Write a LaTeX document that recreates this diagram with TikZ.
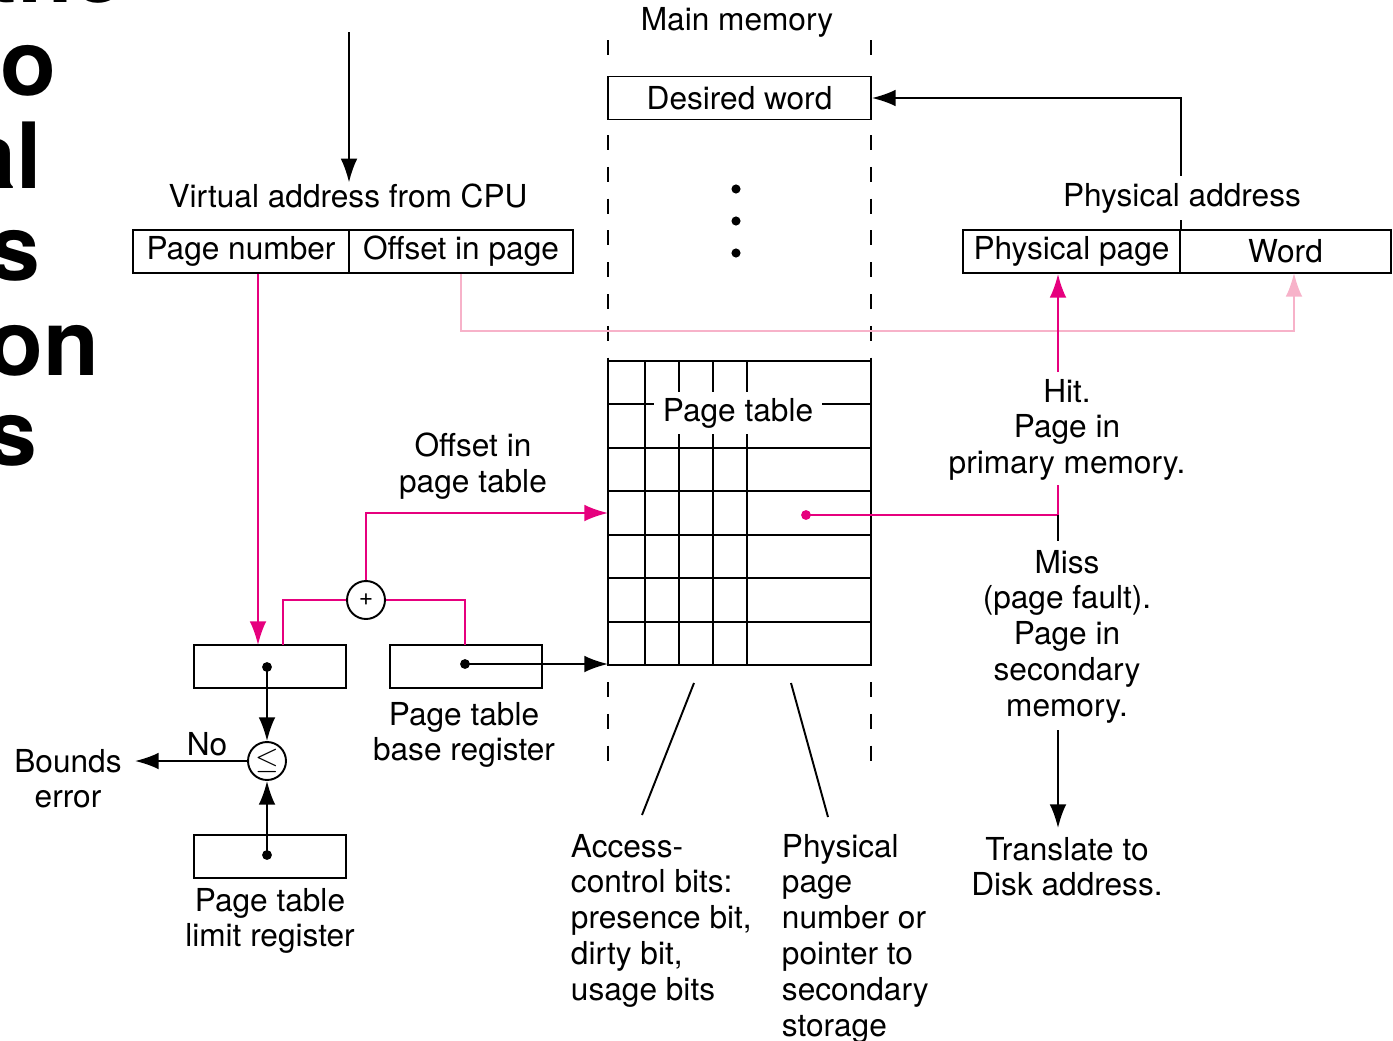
\documentclass[tikz,border=0pt]{standalone}
\usepackage{fontspec}
\setmainfont{TeX Gyre Heros}
\usetikzlibrary{arrows.meta}
\definecolor{hitpink}{RGB}{230,0,126}
\definecolor{offpink}{RGB}{247,178,201}
\tikzset{
  lbl/.style={font=\fontsize{18}{20.4}\selectfont, inner sep=0pt},
  field/.style={lbl, draw, minimum height=0.86cm},
  regbox/.style={draw, minimum width=3.04cm, minimum height=0.86cm, inner sep=0pt},
  op/.style={draw, circle, minimum size=0.76cm, inner sep=0pt, fill=white},
  hit/.style={hitpink},
  off/.style={offpink},
  memdash/.style={dash pattern=on 8.5pt off 9.6pt},
}
\begin{document}
\begin{tikzpicture}[x=0.02cm, y=-0.02cm, line width=1.1pt,
    >={Latex[length=13.5pt,width=9.5pt]}]
  \path[use as bounding box] (0,0) rectangle (1393,1041);
  \clip (0,0) rectangle (1393,1041);

  % title of the slide, cut off at the left
  \begin{scope}[font=\fontsize{52}{60}\selectfont\bfseries]
    \node[anchor=base east, inner sep=0pt] (t1) at (125,3) {the};
    \node[anchor=base east, inner sep=0pt] (t2) at (57,95) {to};
    \node[anchor=base east, inner sep=0pt] (t3) at (43,188) {al};
    \node[anchor=base east, inner sep=0pt] (t4) at (41,280) {s};
    \node[anchor=base east, inner sep=0pt] (t5) at (100,375) {on};
    \node[anchor=base east, inner sep=0pt] (t6) at (38,465) {s};
  \end{scope}

  % Main memory
  \node[lbl, anchor=base] (mm) at (737,31) {Main memory};
  \node[field, minimum width=5.26cm] (dword) at (739.5,98) {Desired word};
  \foreach \x in {608,871} {
    \draw[memdash] (\x,40) -- (\x,56);
    \draw[memdash] (\x,135) -- (\x,361);
    \draw[memdash] (\x,682) -- (\x,762);
  }
  \foreach \y in {189,221,253} \fill (736,\y) circle (2.6pt);

  % Virtual address
  \node[lbl, anchor=base] (vlabel) at (348,207) {Virtual address from CPU};
  \node[field, minimum width=4.32cm] (pnum) at (241,251.5) {Page number};
  \node[field, minimum width=4.48cm] (offs) at (461,251.5) {Offset in page};
  \coordinate (cpu) at (349,32);
  \draw[->] (cpu) -- (cpu |- vlabel.north);

  % Physical address
  \node[field, minimum width=4.34cm] (ppage) at (1071.5,251.5) {Physical page};
  \node[field, minimum width=4.22cm] (word) at (1285.5,251.5) {Word};
  \draw[->] (ppage.north east) -- (ppage.north east |- dword.east) -- (dword.east);
  \node[lbl, anchor=base, fill=white, inner ysep=4pt] (palabel) at (1182,206) {Physical address};

  % Page table
  \coordinate (ptnw) at (608,361);
  \draw (608,361) rectangle (871,665);
  \foreach \y in {404.4,447.9,491.3,534.7,578.1,621.6} \draw (608,\y) -- (871,\y);
  \foreach \x in {645,679,713,747} \draw (\x,361) -- (\x,665);
  \node[lbl, anchor=base, fill=white, inner xsep=5pt, inner ysep=3.4pt] (ptlabel) at (738,421) {Page table};
  \coordinate (acc top) at (694,683);
  \coordinate (ppn top) at (791,683);
  \draw (acc top) -- (642,815);
  \draw (ppn top) -- (828,817);

  % registers and adders
  \node[regbox] (preg) at (270,666.5) {};
  \node[regbox] (breg) at (466,666.5) {};
  \node[regbox] (lreg) at (270,856.5) {};
  \node[op, font=\fontsize{14}{14}\selectfont] (sum) at (366,600) {+};
  \node[op, font=\fontsize{16}{16}\selectfont] (cmp) at (267,761) {$\leq$};

  % page number into the register
  \coordinate (pin) at (258,645);
  \draw[hit,->] (pnum.south -| pin) -- (pin);
  % offset into the word field
  \coordinate (offdrop) at (461,331);
  \coordinate (wordin) at (1294,273);
  \draw[off,->] (offs.south) -- (offdrop) -| (wordin);

  % adder to page table
  \coordinate (pregin) at (283,645);
  \coordinate (bregin) at (465,645);
  \coordinate (ptin) at (608,513);
  \draw[hit] (sum.west) -| (pregin);
  \draw[hit] (sum.east) -| (bregin);
  \draw[hit,->] (sum.north) |- (ptin);
  \node[lbl, align=center, anchor=north] (offpt) at (473,432) {Offset in\\page table};

  % bounds check
  \coordinate (pdot) at (267,667);
  \coordinate (ldot) at (267,855);
  \coordinate (bdot) at (465,664);
  \coordinate (bndin) at (135,761);
  \fill (pdot) circle (2.8pt);
  \fill (ldot) circle (2.8pt);
  \fill (bdot) circle (2.8pt);
  \draw[->] (pdot) -- (cmp.north);
  \draw[->] (ldot) -- (cmp.south);
  \draw[->] (cmp.west) -- (bndin);
  \draw[->] (bdot) -- (bdot -| ptnw);
  \node[lbl, anchor=base] (no) at (207,755) {No};
  \node[lbl, align=center, anchor=north] (bounds) at (68,748) {Bounds\\error};
  \node[lbl, align=center, anchor=north] (bregl) at (464,701) {Page table\\base register};
  \node[lbl, align=center, anchor=north] (lregl) at (270,887) {Page table\\limit register};

  % hit or miss
  \coordinate (hdot) at (806,515);
  \coordinate (split) at (1058,515);
  \coordinate (hitlo) at (1058,485);
  \coordinate (hithi) at (1058,372);
  \coordinate (misshi) at (1058,541);
  \coordinate (misslo) at (1058,730);
  \coordinate (diskin) at (1058,828);
  \fill[hitpink] (hdot) circle (2.8pt);
  \draw[hit] (hdot) -- (split) -- (hitlo);
  \draw[hit,->] (hithi) -- (hithi |- ppage.south);
  \draw (split) -- (misshi);
  \draw[->] (misslo) -- (diskin);
  \node[lbl, align=center, anchor=north] (hitl) at (1067,378) {Hit.\\Page in\\primary memory.};
  \node[lbl, align=center, anchor=north] (missl) at (1067,549) {Miss\\(page fault).\\Page in\\secondary\\memory.};
  \node[lbl, align=center, anchor=north] (disk) at (1067,836) {Translate to\\Disk address.};

  % table field notes
  \node[lbl, align=left, anchor=north west] (accl) at (570,833) {Access-\\control bits:\\presence bit,\\dirty bit,\\usage bits};
  \node[lbl, align=left, anchor=north west] (ppnl) at (781,833) {Physical\\page\\number or\\pointer to\\secondary\\storage};
\end{tikzpicture}
\end{document}
